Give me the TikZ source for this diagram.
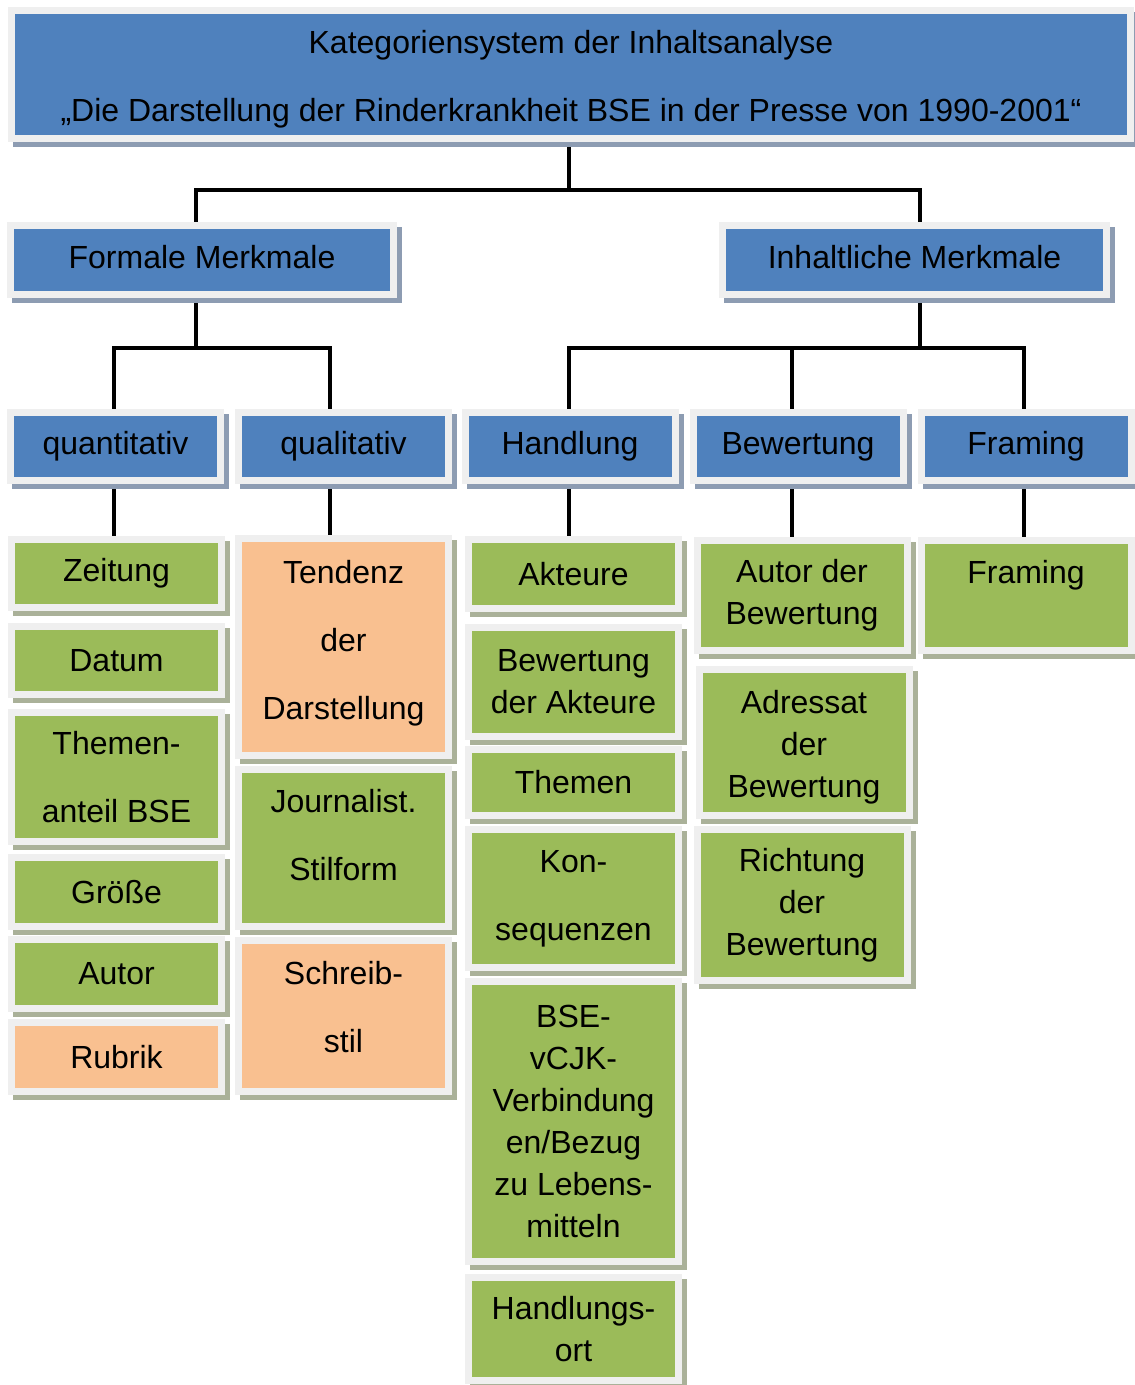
\documentclass[tikz,border=0pt]{standalone}
\usepackage{fontspec}
\setmainfont{Liberation Sans}
\usetikzlibrary{backgrounds}

\definecolor{boxBlue}{HTML}{4F81BD}
\definecolor{boxGreen}{HTML}{9BBB59}
\definecolor{boxOrange}{HTML}{F9C090}
\definecolor{frameGray}{HTML}{EFEFEF}
\definecolor{shadeBlue}{HTML}{8D9CB2}
\definecolor{shadeGreen}{HTML}{AAB199}

\newcommand{\tightfont}{\fontsize{16}{21}\selectfont}
\newcommand{\widefont}{\fontsize{16}{34}\selectfont}

\begin{document}
\begin{tikzpicture}[x = 0.5pt, y = -0.5pt]
	\tikzstyle{boxStyle} = [draw = frameGray, line width = 3.5pt, inner sep = 2pt, align = center, font = \tightfont, minimum width = 105pt]
	\tikzstyle{blueStyle} = [boxStyle, fill = boxBlue, preaction = {fill = shadeBlue, draw = shadeBlue, line width = 3.5pt, transform canvas = {shift = {(2.5pt, -2.5pt)}}}]
	\tikzstyle{greenStyle} = [boxStyle, fill = boxGreen, preaction = {fill = shadeGreen, draw = shadeGreen, line width = 3.5pt, transform canvas = {shift = {(2.5pt, -2.5pt)}}}]
	\tikzstyle{orangeStyle} = [boxStyle, fill = boxOrange, preaction = {fill = shadeGreen, draw = shadeGreen, line width = 3.5pt, transform canvas = {shift = {(2.5pt, -2.5pt)}}}]
	\tikzstyle{wideStyle} = [font = \widefont]
	\tikzstyle{linkStyle} = [line width = 1.6pt, black]
	\useasboundingbox (0, 0) rectangle (1134, 1385);
	% title and main branches
	\node[blueStyle, wideStyle, minimum width = 559.5pt, minimum height = 64pt] (title) at (571, 74.5) {\rule{0pt}{16.5pt}Kategoriensystem der Inhaltsanalyse\\\char"201E Die Darstellung der Rinderkrankheit BSE in der Presse von 1990-2001\char"201C};
	\node[blueStyle, minimum width = 191.5pt, minimum height = 34.5pt] (formal) at (202, 260) {Formale Merkmale\rule[-3pt]{0pt}{0pt}};
	\node[blueStyle, minimum width = 192pt, minimum height = 34.5pt] (inhalt) at (914.5, 260) {Inhaltliche Merkmale\rule[-3pt]{0pt}{0pt}};
	% second level
	\node[blueStyle, minimum height = 34pt] (quant) at (115.5, 446.5) {quantitativ};
	\node[blueStyle, minimum height = 34pt] (qual) at (343.5, 446.5) {qualitativ};
	\node[blueStyle, minimum height = 34pt] (handlung) at (570, 446.5) {Handlung};
	\node[blueStyle, minimum height = 34pt] (bewertung) at (798, 446.5) {Bewertung};
	\node[blueStyle, minimum height = 34pt] (framing) at (1026, 446.5) {Framing};
	% quantitativ
	\node[greenStyle, minimum height = 34pt] (zeitung) at (116.5, 573.5) {Zeitung};
	\node[greenStyle, minimum height = 34pt] (datum) at (116.5, 660.5) {Datum};
	\node[greenStyle, wideStyle, minimum height = 64.5pt] (themenanteil) at (116.5, 777) {Themen-\\anteil BSE};
	\node[greenStyle, minimum height = 34.5pt] (groesse) at (116.5, 892) {Größe};
	\node[greenStyle, minimum height = 34.5pt] (autor) at (116.5, 974) {Autor};
	\node[orangeStyle, minimum height = 34.5pt] (rubrik) at (116.5, 1057) {Rubrik};
	% qualitativ
	\node[orangeStyle, wideStyle, minimum height = 108.5pt] (tendenz) at (343.5, 647) {Tendenz\\der\\Darstellung\rule[-7.5pt]{0pt}{0pt}};
	\node[greenStyle, wideStyle, minimum height = 78.5pt] (stilform) at (343.5, 848) {Journalist.\\Stilform\rule[-13pt]{0pt}{0pt}};
	\node[orangeStyle, wideStyle, minimum height = 75.5pt] (schreibstil) at (343.5, 1016) {Schreib-\\stil\rule[-9.5pt]{0pt}{0pt}};
	% Handlung
	\node[greenStyle, minimum height = 34.5pt] (akteure) at (573.5, 574) {Akteure};
	\node[greenStyle, minimum height = 54.5pt] (bewakteure) at (573.5, 682) {Bewertung\\der Akteure};
	\node[greenStyle, minimum height = 33pt] (themen) at (573.5, 782.5) {Themen};
	\node[greenStyle, wideStyle, minimum height = 69pt] (konsequenzen) at (573.5, 898.5) {Kon-\\sequenzen};
	\node[greenStyle, minimum height = 140pt] (bse) at (573.5, 1121.5) {BSE-\\vCJK-\\Verbindung\\en/Bezug\\zu Lebens-\\mitteln};
	\node[greenStyle, minimum height = 51.5pt] (handlungsort) at (573.5, 1329) {Handlungs-\\ort};
	% Bewertung
	\node[greenStyle, minimum height = 55pt] (autorbew) at (802, 595.5) {Autor der\\Bewertung};
	\node[greenStyle, minimum height = 73pt] (adressat) at (804, 742.5) {\rule{0pt}{16pt}Adressat\\der\\Bewertung};
	\node[greenStyle, minimum height = 75.5pt] (richtung) at (802, 905) {Richtung\\der\\Bewertung};
	% Framing
	\node[greenStyle, minimum height = 55pt] (framingcat) at (1026, 595.5) {Framing\\\rule[-3pt]{0pt}{0pt}};
	% connectors
	\begin{pgfonlayer}{background}
		\coordinate (bus0) at (569, 190);
		\coordinate (bus1) at (196, 348);
		\coordinate (bus2) at (920, 348);
		\draw[linkStyle] (title.south -| bus0) -- (bus0);
		\draw[linkStyle] (formal.north -| bus1) |- (bus0) -| (inhalt.north -| bus2);
		\draw[linkStyle] (formal.south -| bus1) -- (bus1);
		\draw[linkStyle] (inhalt.south -| bus2) -- (bus2);
		\draw[linkStyle] ([xshift = -0.75pt]quant.north) |- (bus1) -| ([xshift = -6.75pt]qual.north);
		\draw[linkStyle] ([xshift = -0.5pt]handlung.north) |- (bus2) -| ([xshift = -3pt]bewertung.north);
		\draw[linkStyle] (bus2) -| ([xshift = -1pt]framing.north);
		\draw[linkStyle] ([xshift = -0.75pt]quant.south) -- ([xshift = -1.25pt]zeitung.north);
		\draw[linkStyle] ([xshift = -6.75pt]qual.south) -- ([xshift = -6.75pt]tendenz.north);
		\draw[linkStyle] ([xshift = -0.5pt]handlung.south) -- ([xshift = -2.25pt]akteure.north);
		\draw[linkStyle] ([xshift = -3pt]bewertung.south) -- ([xshift = -5pt]autorbew.north);
		\draw[linkStyle] ([xshift = -1pt]framing.south) -- ([xshift = -1pt]framingcat.north);
	\end{pgfonlayer}
\end{tikzpicture}
\end{document}
